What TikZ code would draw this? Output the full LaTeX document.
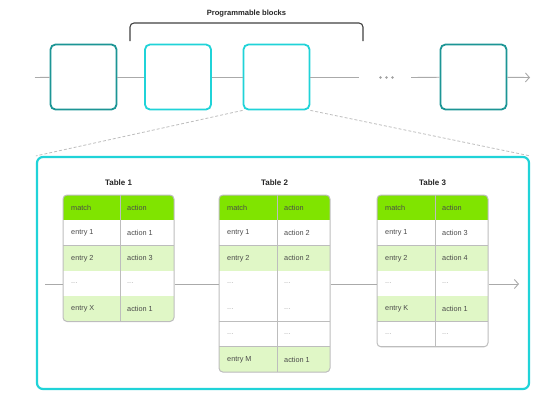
\documentclass[tikz,border=0pt]{standalone}
\usepackage{fontspec}
\setmainfont{Liberation Sans}
\usetikzlibrary{arrows.meta}
\definecolor{blkteal}{HTML}{1C9595}
\definecolor{blkcyan}{HTML}{20D3D8}
\definecolor{hdrgreen}{HTML}{80E400}
\definecolor{rowgreen}{HTML}{E0F7C6}
\definecolor{conngray}{HTML}{AAAAAA}
\definecolor{gridgray}{HTML}{BDBDBD}
\definecolor{celltxt}{HTML}{4A4A4A}
\definecolor{dotgray}{HTML}{A0A0A0}
\newcommand{\tdots}{\textcolor{dotgray}{...}}
\newcommand{\tblrows}[6]{% #1 name, #2 xl, #3 xd, #4 xr, #5 ytop, #6 rows
  \foreach \cc/\lt/\rt [count=\i from 0] in {#6} {
    \pgfmathsetmacro\ya{#5+\i*25.3}
    \pgfmathsetmacro\yb{#5+(\i+1)*25.3}
    \pgfmathsetmacro\ym{#5+(\i+0.5)*25.3}
    \fill[fill=\cc] (#2,\ya) rectangle (#4,\yb);
    \draw[gridline] (#2,\yb) -- (#4,\yb);
    \node[celltext] (#1-l\i) at (#2+8,\ym) {\lt};
    \node[celltext] (#1-r\i) at (#3+7,\ym) {\rt};
  }
}
\begin{document}
\begin{tikzpicture}[x=1pt,y=-1pt,
  blk/.style={line width=1.8pt, rounded corners=5pt, minimum width=66pt, minimum height=65pt, inner sep=0pt, fill=white},
  blkA/.style={blk, draw=blkteal},
  blkB/.style={blk, draw=blkcyan},
  conn/.style={draw=conngray, line width=0.9pt},
  arr/.style={conn, -{Straight Barb[length=4pt,width=9pt,line width=0.9pt]}},
  dashline/.style={draw=gridgray, line width=0.8pt, dash pattern=on 3pt off 2pt},
  frame/.style={draw=blkcyan, line width=2.2pt, rounded corners=6pt, minimum width=492pt, minimum height=232pt, inner sep=0pt},
  tbox/.style={draw=gridgray, line width=1pt, rounded corners=4pt, inner sep=0pt},
  gridline/.style={draw=gridgray, line width=0.7pt},
  celltext/.style={anchor=west, inner sep=0pt, text=celltxt, font=\fontsize{7.3}{8.5}\selectfont},
  ttl/.style={font=\bfseries\fontsize{8}{9.5}\selectfont, text=black!85},
  bracket/.style={draw=black!75, line width=1.1pt, rounded corners=4pt}
]
\useasboundingbox (0,0) rectangle (546,402);

% top pipeline
\coordinate (s0) at (35,77.5);
\node[blkA] (b1) at (83.5,77) {};
\node[blkB] (b2) at (178,77) {};
\node[blkB] (b3) at (276.5,77) {};
\coordinate (e1) at (359,77.5);
\coordinate (s2) at (411,77.5);
\node[blkA] (b4) at (473.5,77) {};
\coordinate (e2) at (530,77.5);
\draw[conn] (s0) -- (b1);
\draw[conn] (b1) -- (b2);
\draw[conn] (b2) -- (b3);
\draw[conn] (b3.east |- e1) -- (e1);
\draw[conn] (s2) -- (b4);
\draw[arr] (b4) -- (e2);
\foreach \dx in {380.5,386.5,392.5} \fill[dotgray] (\dx,77.5) circle (1.4);

% bracket
\coordinate (brL) at (130,41);
\coordinate (brR) at (363,41);
\draw[bracket] (brL) -- (130,23) -- (363,23) -- (brR);
\node[ttl, font=\bfseries\fontsize{7.6}{9}\selectfont] (pb) at (246.5,14) {Programmable blocks};

% frame
\node[frame] (fr) at (283,273) {};
\draw[dashline] (b3.south west) -- (fr.north west);
\draw[dashline] (b3.south east) -- (fr.north east);

% table 1
\node[ttl] (t1t) at (118.5,183) {Table 1};
\begin{scope}
\clip[rounded corners=4pt] (63,195) rectangle (174,321.5);
\tblrows{tA}{63}{120}{174}{195}{hdrgreen/match/action, white/entry 1/action 1, rowgreen/entry 2/action 3, white/\tdots/\tdots, rowgreen/entry X/action 1}
\draw[gridline] (120,195) -- (120,321.5);
\end{scope}
\node[tbox, minimum width=111pt, minimum height=126.5pt] (t1) at (118.5,258.25) {};

% table 2
\node[ttl] (t2t) at (274.5,183) {Table 2};
\begin{scope}
\clip[rounded corners=4pt] (219,195) rectangle (330,372.1);
\tblrows{tB}{219}{277}{330}{195}{hdrgreen/match/action, white/entry 1/action 2, rowgreen/entry 2/action 2, white/\tdots/\tdots, white/\tdots/\tdots, white/\tdots/\tdots, rowgreen/entry M/action 1}
\draw[gridline] (277,195) -- (277,372.1);
\end{scope}
\node[tbox, minimum width=111pt, minimum height=177.1pt] (t2) at (274.5,283.55) {};

% table 3
\node[ttl] (t3t) at (432.5,183) {Table 3};
\begin{scope}
\clip[rounded corners=4pt] (377,195) rectangle (488,346.8);
\tblrows{tC}{377}{435}{488}{195}{hdrgreen/match/action, white/entry 1/action 3, rowgreen/entry 2/action 4, white/\tdots/\tdots, rowgreen/entry K/action 1, white/\tdots/\tdots}
\draw[gridline] (435,195) -- (435,346.8);
\end{scope}
\node[tbox, minimum width=111pt, minimum height=151.8pt] (t3) at (432.5,270.9) {};

% inner pipeline
\coordinate (fl) at (45,284);
\coordinate (fe) at (519,284);
\draw[conn] (fl) -- (t1.west |- fl);
\draw[conn] (t1.east |- fl) -- (t2.west |- fl);
\draw[conn] (t2.east |- fl) -- (t3.west |- fl);
\draw[arr] (t3.east |- fl) -- (fe);
\end{tikzpicture}
\end{document}
